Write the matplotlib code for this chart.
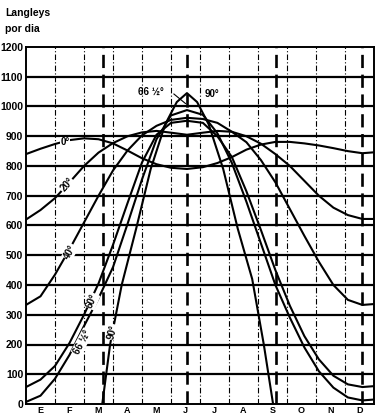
import matplotlib
matplotlib.use("Agg")
import matplotlib.pyplot as plt

FONT = ["Liberation Sans Narrow", "Liberation Sans", "DejaVu Sans"]
plt.rcParams.update({"font.family": FONT, "font.weight": "bold"})

# month position (0 = 1 Jan, 12 = 31 Dec) and daily radiation (Langleys) per latitude
MONTHS_X = [0, 0.5, 1, 1.5, 2, 2.5, 3, 3.5, 4, 4.5, 5, 5.55,
            6.1, 6.6, 7.1, 7.6, 8.1, 8.6, 9.1, 9.6, 10.1, 10.6, 11.1, 11.6, 12]
LAT_0 = [840, 858, 874, 887, 893, 890, 876, 852, 826, 806, 794, 790,
         796, 810, 830, 855, 872, 881, 881, 876, 869, 860, 850, 843, 846]
LAT_20 = [620, 652, 692, 745, 800, 845, 877, 900, 913, 918, 912, 905,
          912, 918, 915, 900, 875, 840, 800, 750, 700, 660, 635, 622, 622]
LAT_40 = [333, 362, 435, 520, 610, 700, 785, 852, 903, 935, 955, 962,
          958, 945, 915, 880, 820, 745, 655, 565, 478, 400, 350, 333, 336]
LAT_60 = [57, 82, 128, 205, 300, 405, 535, 675, 812, 905, 945, 952,
          945, 900, 830, 715, 585, 450, 330, 228, 150, 95, 66, 57, 60]
LAT_66 = [7, 28, 85, 165, 262, 355, 460, 605, 755, 890, 970, 988,
          972, 910, 810, 680, 540, 400, 290, 190, 110, 55, 22, 12, 15]
POLE_X = [2.63, 2.9, 3.3, 3.8, 4.3, 4.8, 5.2, 5.55, 5.9, 6.3, 6.8, 7.3, 7.8, 8.2, 8.52]
LAT_90 = [0, 200, 400, 590, 790, 940, 1015, 1045, 1015, 940, 790, 590, 420, 200, 0]

MONTH_LABELS = ["E", "F", "M", "A", "M", "J", "J", "A", "S", "O", "N", "D"]
SEASONS = [2.66, 5.55, 8.62, 11.59]

fig = plt.figure(figsize=(3.75, 4.17), dpi=100)
fig.patch.set_facecolor("white")
ax = fig.add_axes([26 / 375, 13 / 417, 348 / 375, 357 / 417])
ax.set_xlim(0, 12); ax.set_ylim(0, 1200)

# grid: solid horizontals, dash-dot month limits, heavy dashes at equinoxes/solstices
for y in range(100, 1200, 100):
    ax.axhline(y, color="black", lw=1.6, zorder=1)
for m in range(1, 12):
    ax.axvline(m, color="black", lw=0.8, ls=(0, (5, 2, 1, 2)), zorder=1)
for m in SEASONS:
    ax.axvline(m, color="black", lw=1.9, ls=(0, (5, 2.5)), zorder=1)

for vals in (LAT_0, LAT_20, LAT_40, LAT_60, LAT_66):
    ax.plot(MONTHS_X, vals, color="black", lw=1.5, zorder=2)
ax.plot(POLE_X, LAT_90, color="black", lw=1.5, zorder=2)

box = dict(facecolor="white", edgecolor="none", pad=0.5)
def lab(x, y, s, rot=0):
    ax.text(x, y, s, fontsize=7, rotation=rot, ha="center", va="center",
            bbox=box, zorder=3)

lab(1.34, 880, "0°")
lab(1.41, 736, "20°", 48)
lab(1.52, 511, "40°", 60)
lab(2.28, 346, "60°", 66)
lab(1.93, 208, "66 ½°", 62)
lab(2.97, 242, "90°", 76)
ax.text(4.31, 1050, "66 ½°", fontsize=7, ha="center", va="center", zorder=3)
ax.plot([5.1, 5.5], [1042, 1010], color="black", lw=0.8, zorder=3)
ax.text(6.41, 1042, "90°", fontsize=7, ha="center", va="center", zorder=3)

for s in ax.spines.values():
    s.set_color("black"); s.set_linewidth(1.4)
ax.set_yticks(range(0, 1300, 100))
ax.set_yticklabels([str(v) for v in range(0, 1300, 100)], fontsize=7.5, fontweight="bold")
ax.set_xticks([m + 0.5 for m in range(12)])
ax.set_xticklabels(MONTH_LABELS, fontsize=6.5, fontweight="bold")
ax.tick_params(length=0, pad=1.5)
ax.tick_params(axis="y", pad=2)

fig.text(5 / 375, 1 - 13 / 417, "Langleys", fontsize=7.5, fontweight="bold", va="center")
fig.text(5 / 375, 1 - 29 / 417, "por dia", fontsize=7.5, fontweight="bold", va="center")

fig.savefig("out.png", dpi=100, facecolor="white")
